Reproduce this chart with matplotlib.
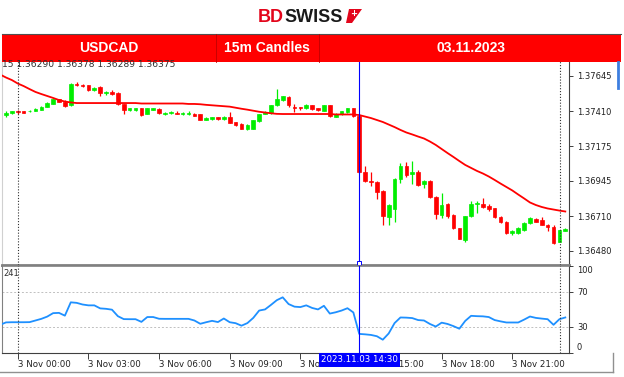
import numpy as np
import matplotlib
matplotlib.use("Agg")
import matplotlib.pyplot as plt
from matplotlib.patches import Rectangle, Polygon
from matplotlib.lines import Line2D
from matplotlib.transforms import blended_transform_factory

plt.rcParams["font.family"] = ["DejaVu Sans"]

# ── Datos (velas 15m, USDCAD 03.11.2023; índice 0 = 02 Nov 23:30) ─────────────
opens = [
    1.37383, 1.37397, 1.37413, 1.37410, 1.37407, 1.37410, 1.37420, 1.37440, 1.37460, 1.37487,
    1.37473, 1.37447, 1.37593, 1.37586, 1.37580, 1.37553, 1.37570, 1.37527, 1.37537, 1.37533,
    1.37457, 1.37417, 1.37417, 1.37430, 1.37390, 1.37420, 1.37423, 1.37393, 1.37397, 1.37400,
    1.37393, 1.37393, 1.37393, 1.37390, 1.37350, 1.37360, 1.37367, 1.37357, 1.37373, 1.37337,
    1.37323, 1.37293, 1.37293, 1.37343, 1.37390, 1.37397, 1.37447, 1.37483, 1.37503, 1.37440,
    1.37437, 1.37427, 1.37447, 1.37430, 1.37413, 1.37447, 1.37373, 1.37390, 1.37403, 1.37427,
    1.37380, 1.37004, 1.36944, 1.36937, 1.36877, 1.36701, 1.36758, 1.36957, 1.37041, 1.36991,
    1.37004, 1.36924, 1.36941, 1.36837, 1.36718, 1.36791, 1.36718, 1.36628, 1.36551, 1.36708,
    1.36791, 1.36791, 1.36778, 1.36761, 1.36704, 1.36674, 1.36595, 1.36601, 1.36618, 1.36661,
    1.36694, 1.36681, 1.36654, 1.36641, 1.36541, 1.36611,
]
highs = [
    1.37410, 1.37410, 1.37420, 1.37413, 1.37417, 1.37427, 1.37443, 1.37470, 1.37493, 1.37490,
    1.37480, 1.37596, 1.37600, 1.37590, 1.37586, 1.37567, 1.37576, 1.37543, 1.37550, 1.37537,
    1.37460, 1.37433, 1.37430, 1.37433, 1.37430, 1.37430, 1.37427, 1.37403, 1.37413, 1.37407,
    1.37403, 1.37410, 1.37397, 1.37393, 1.37367, 1.37373, 1.37370, 1.37377, 1.37403, 1.37340,
    1.37327, 1.37323, 1.37353, 1.37393, 1.37407, 1.37453, 1.37556, 1.37510, 1.37507, 1.37457,
    1.37440, 1.37457, 1.37450, 1.37433, 1.37450, 1.37450, 1.37397, 1.37413, 1.37430, 1.37430,
    1.37383, 1.37047, 1.37004, 1.36941, 1.36881, 1.36791, 1.36964, 1.37064, 1.37071, 1.37077,
    1.37017, 1.36951, 1.36951, 1.36844, 1.36864, 1.36798, 1.36721, 1.36631, 1.36711, 1.36811,
    1.36808, 1.36831, 1.36788, 1.36764, 1.36708, 1.36678, 1.36615, 1.36635, 1.36668, 1.36701,
    1.36698, 1.36704, 1.36658, 1.36651, 1.36618, 1.36628,
]
lows = [
    1.37370, 1.37390, 1.37393, 1.37397, 1.37403, 1.37407, 1.37417, 1.37437, 1.37457, 1.37467,
    1.37437, 1.37443, 1.37576, 1.37570, 1.37543, 1.37546, 1.37510, 1.37517, 1.37517, 1.37453,
    1.37393, 1.37410, 1.37413, 1.37380, 1.37387, 1.37417, 1.37393, 1.37383, 1.37393, 1.37387,
    1.37383, 1.37383, 1.37377, 1.37347, 1.37347, 1.37353, 1.37353, 1.37353, 1.37327, 1.37313,
    1.37287, 1.37284, 1.37290, 1.37340, 1.37387, 1.37393, 1.37443, 1.37477, 1.37437, 1.37403,
    1.37420, 1.37423, 1.37420, 1.37413, 1.37410, 1.37370, 1.37367, 1.37383, 1.37400, 1.37373,
    1.37000, 1.36934, 1.36911, 1.36824, 1.36651, 1.36651, 1.36671, 1.36931, 1.36971, 1.36924,
    1.36911, 1.36897, 1.36831, 1.36691, 1.36698, 1.36698, 1.36624, 1.36558, 1.36538, 1.36704,
    1.36734, 1.36764, 1.36744, 1.36698, 1.36664, 1.36591, 1.36585, 1.36591, 1.36614, 1.36658,
    1.36668, 1.36648, 1.36608, 1.36525, 1.36538, 1.36608,
]
closes = [
    1.37400, 1.37407, 1.37403, 1.37400, 1.37413, 1.37423, 1.37440, 1.37463, 1.37487, 1.37473,
    1.37443, 1.37593, 1.37583, 1.37576, 1.37553, 1.37563, 1.37527, 1.37537, 1.37523, 1.37457,
    1.37417, 1.37427, 1.37427, 1.37383, 1.37427, 1.37427, 1.37397, 1.37400, 1.37403, 1.37393,
    1.37400, 1.37400, 1.37380, 1.37350, 1.37363, 1.37370, 1.37357, 1.37373, 1.37330, 1.37317,
    1.37290, 1.37320, 1.37350, 1.37390, 1.37403, 1.37447, 1.37490, 1.37507, 1.37450, 1.37430,
    1.37427, 1.37450, 1.37423, 1.37417, 1.37447, 1.37377, 1.37393, 1.37410, 1.37427, 1.37380,
    1.37004, 1.36941, 1.36934, 1.36874, 1.36708, 1.36784, 1.36957, 1.37041, 1.36984, 1.37001,
    1.36917, 1.36941, 1.36837, 1.36724, 1.36784, 1.36711, 1.36631, 1.36561, 1.36708, 1.36791,
    1.36798, 1.36771, 1.36758, 1.36704, 1.36668, 1.36595, 1.36608, 1.36631, 1.36664, 1.36698,
    1.36674, 1.36651, 1.36641, 1.36528, 1.36615, 1.36625,
]

# media móvil y oscilador, desde el índice -1
ma_values = [
    1.37653, 1.37633, 1.37616, 1.37593, 1.37576, 1.37556, 1.37537, 1.37523, 1.37510, 1.37497,
    1.37483, 1.37473, 1.37467, 1.37463, 1.37463, 1.37463, 1.37463, 1.37463, 1.37463, 1.37463,
    1.37463, 1.37463, 1.37463, 1.37463, 1.37460, 1.37460, 1.37460, 1.37460, 1.37460, 1.37460,
    1.37460, 1.37460, 1.37457, 1.37457, 1.37455, 1.37451, 1.37448, 1.37445, 1.37442, 1.37439,
    1.37432, 1.37425, 1.37419, 1.37412, 1.37405, 1.37400, 1.37395, 1.37391, 1.37390, 1.37390,
    1.37390, 1.37390, 1.37390, 1.37390, 1.37390, 1.37390, 1.37390, 1.37387, 1.37387, 1.37387,
    1.37387, 1.37383, 1.37373, 1.37363, 1.37350, 1.37337, 1.37320, 1.37303, 1.37284, 1.37267,
    1.37254, 1.37240, 1.37227, 1.37207, 1.37184, 1.37157, 1.37130, 1.37104, 1.37077, 1.37051,
    1.37031, 1.37011, 1.36994, 1.36974, 1.36951, 1.36927, 1.36904, 1.36881, 1.36854, 1.36828,
    1.36801, 1.36784, 1.36771, 1.36761, 1.36754, 1.36747, 1.36741,
]
osc_values = [
    32.0, 34.8, 35.0, 35.0, 35.0, 35.1, 37.0, 38.9, 41.5, 45.5, 45.8,
    42.6, 58.0, 57.4, 55.5, 54.5, 54.5, 51.0, 50.5, 49.5, 42.0,
    38.6, 38.5, 38.5, 35.4, 41.0, 41.0, 39.0, 38.9, 38.9, 38.9,
    38.9, 38.9, 37.0, 33.2, 35.0, 36.6, 35.2, 39.3, 35.0, 33.9,
    31.0, 34.0, 40.0, 48.5, 49.8, 55.0, 60.5, 63.8, 56.0, 53.0,
    52.5, 54.5, 51.5, 49.8, 54.0, 45.0, 46.5, 48.5, 51.2, 46.3,
    21.5, 21.0, 20.3, 18.8, 14.8, 22.0, 34.0, 40.5, 40.3, 39.8,
    37.5, 37.0, 33.0, 30.0, 34.5, 33.0, 30.5, 27.5, 36.5, 42.4,
    42.0, 41.8, 41.0, 37.5, 36.0, 34.7, 34.7, 34.7, 38.0, 41.6,
    40.0, 39.2, 38.5, 32.0, 38.5, 40.5,
]

price_ticks = [1.37645, 1.37410, 1.37175, 1.36945, 1.36710, 1.36480]
osc_ticks = [100, 70, 30, 0]
osc_levels = [70, 30]
time_idx = [2, 14, 26, 38, 50, 62, 74, 86]
time_labels = ["3 Nov 00:00", "3 Nov 03:00", "3 Nov 06:00", "3 Nov 09:00",
               "3 Nov 12:00", "3 Nov 15:00", "3 Nov 18:00", "3 Nov 21:00"]
separators = [2, 94.05]
cursor_idx = 60
cursor_label = "2023.11.03 14:30"

# ── Layout en píxeles ─────────────────────────────────────────────────────────
W, H = 624, 377
def fx(px): return px / W
def fy(py): return 1 - py / H

GREEN, RED, BLUE = "#00ee00", "#ff0000", "#0000ff"

fig = plt.figure(figsize=(W / 100, H / 100), dpi=100)
fig.patch.set_facecolor("white")

ax = fig.add_axes([fx(2), fy(264.5), fx(569.3) - fx(2), (264.5 - 61) / H])
osc = fig.add_axes([fx(2), fy(352.5), fx(569.3) - fx(2), (352.5 - 266) / H])

# ── Velas
o, h, l, c = map(np.array, (opens, highs, lows, closes))
idx = np.arange(len(o))
cols = np.where(c >= o, GREEN, RED)
ax.vlines(idx, l, h, colors=cols, lw=0.9, zorder=2)
ax.bar(idx, np.abs(c - o), bottom=np.minimum(o, c), width=0.62,
       color=cols, edgecolor=cols, linewidth=0.5, zorder=2)
ax.plot(np.arange(-1, len(ma_values) - 1), ma_values, color=RED, lw=1.3, zorder=3)

ax.set_xlim(-0.68, 95.68)
ax.set_ylim(1.36388, 1.37743)
ax.yaxis.tick_right()
ax.set_yticks(price_ticks)
ax.set_yticklabels([f"{v:.5f}" for v in price_ticks])
ax.set_xticks([])
ax.tick_params(axis="y", direction="out", length=3, width=0.6, pad=2.5,
               labelsize=6, colors="#202020")

# ── Oscilador
osc.plot(np.arange(-1, len(osc_values) - 1), osc_values, color="#1e90ff", lw=1.3, zorder=3)
for lv in osc_levels:
    osc.axhline(lv, color="#c0c0c0", lw=0.7, ls=(0, (2, 2)), zorder=1)
osc.set_xlim(-0.68, 95.68)
osc.set_ylim(0, 100)
osc.yaxis.tick_right()
osc.set_yticks(osc_ticks)
osc.set_yticklabels([str(v) for v in osc_ticks])
osc.tick_params(axis="y", direction="out", length=3, width=0.6, pad=2.5,
                labelsize=6, colors="#202020")
for t in osc.get_yticklabels():
    if t.get_text() == "100":
        t.set_verticalalignment("top")
    elif t.get_text() == "0":
        t.set_verticalalignment("bottom")
osc.set_xticks(time_idx)
osc.set_xticklabels(time_labels, ha="left")
osc.tick_params(axis="x", direction="out", length=4, width=0.6, pad=1.5,
                labelsize=6.2, colors="#202020")

# ── Líneas verticales (separadores y cursor)
for a in (ax, osc):
    for s in separators:
        a.axvline(s, color="#303030", lw=0.8, ls=(0, (1, 1.6)), zorder=4)
    a.axvline(cursor_idx, color=BLUE, lw=0.8, zorder=4)
ax.plot([cursor_idx], [1.36400], marker="s", ms=3, mfc="white", mec=BLUE,
        mew=0.7, clip_on=False, zorder=6)
tr = blended_transform_factory(osc.transData, osc.transAxes)
osc.text(cursor_idx, (352.5 - 360) / 86.5, cursor_label, transform=tr,
         ha="center", va="center", fontsize=6.2, color="white", zorder=10,
         clip_on=False,
         bbox=dict(boxstyle="square,pad=0.25", fc=BLUE, ec="none"))

# ── Spines
for a in (ax, osc):
    a.set_facecolor("white")
    a.spines["right"].set_color("#404040")
    a.spines["right"].set_linewidth(0.8)
    a.spines["left"].set_linewidth(0.8)
ax.spines["top"].set_visible(False)
ax.spines["left"].set_color("#d0d0d0")
ax.spines["bottom"].set_color("#808080")
ax.spines["bottom"].set_linewidth(2.0)
osc.spines["top"].set_color("#808080")
osc.spines["top"].set_linewidth(1.2)
osc.spines["left"].set_color("#808080")
osc.spines["bottom"].set_color("#404040")
osc.spines["bottom"].set_linewidth(0.8)

# ── Textos de las ventanas
fig.text(fx(2.5), fy(64.5), "15 1.36290 1.36378 1.36289 1.36375", fontsize=6.6,
         va="center", ha="left", color="#303030")
fig.text(fx(3), fy(274), "241", fontsize=6, va="center", ha="left", color="#303030")

# ── Cabecera
fig.patches.append(Rectangle((fx(2), fy(61.5)), fx(621) - fx(2), (61.5 - 34) / H,
                             transform=fig.transFigure, fc="#ff0000", ec="none", zorder=1))
fig.lines.append(Line2D([fx(2), fx(621)], [fy(34), fy(34)], color="#505050", lw=0.8,
                        transform=fig.transFigure))
for xd in (216, 319):
    fig.lines.append(Line2D([fx(xd), fx(xd)], [fy(34), fy(61.5)], color="#c00000",
                            lw=0.6, transform=fig.transFigure))
hdr = dict(color="white", fontsize=10, fontweight="bold", family="Liberation Sans",
           ha="center", va="center")
fig.text(fx(109), fy(48), "USDCAD", **hdr)
fig.text(fx(267), fy(48), "15m Candles", **hdr)
fig.text(fx(471), fy(48), "03.11.2023", **hdr)

# ── Logo
fig.text(fx(284), fy(17), "BD", ha="right", va="center", color="#e3051b",
         fontsize=13, fontweight="bold", family="Liberation Sans")
fig.text(fx(284), fy(17), "SWISS", ha="left", va="center", color="#1a1a1a",
         fontsize=13, fontweight="bold", family="Liberation Sans")
fig.patches.append(Polygon([(fx(349), fy(9)), (fx(362), fy(9)), (fx(352), fy(23)), (fx(346), fy(23))],
                           closed=True, transform=fig.transFigure, fc="#e3051b", ec="none"))
fig.text(fx(354), fy(14), "+", ha="center", va="center", color="white",
         fontsize=6, fontweight="bold")

# ── Marcos de ventana
fig.lines.append(Line2D([fx(617.5), fx(617.5)], [fy(62), fy(88)], color="#3d7fe0", lw=2,
                        transform=fig.transFigure))
fig.lines.append(Line2D([fx(0), fx(613)], [fy(371.7), fy(371.7)], color="#909090", lw=1,
                        transform=fig.transFigure))
fig.lines.append(Line2D([fx(613), fx(613)], [fy(352.5), fy(371.7)], color="#909090", lw=1,
                        transform=fig.transFigure))

fig.savefig("out.png", dpi=100)
